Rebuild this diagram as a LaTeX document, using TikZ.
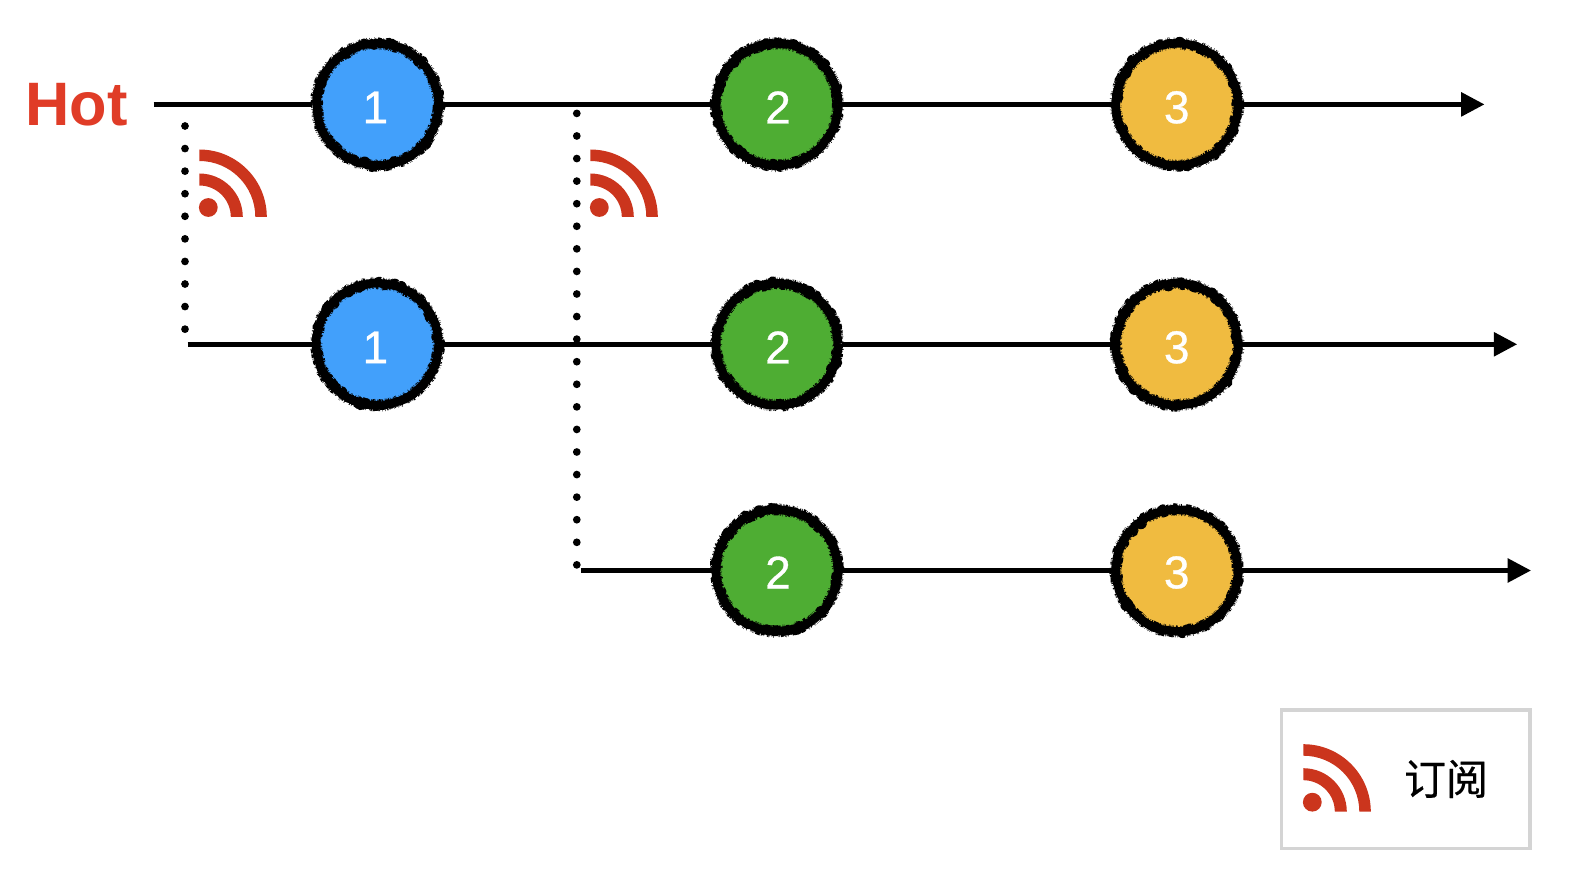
\documentclass[tikz,border=0pt]{standalone}
\usepackage{fontspec}
\setmainfont{Liberation Sans}
\newfontfamily\numfont{Liberation Sans}[FakeBold=0.7]
\newfontfamily\cjk{Noto Sans CJK SC}[FakeBold=0.5]
\usetikzlibrary{arrows.meta,decorations.pathmorphing}
\definecolor{hotred}{HTML}{E03C27}
\definecolor{rssred}{HTML}{CB351D}
\definecolor{ballblue}{HTML}{42A0FB}
\definecolor{ballgreen}{HTML}{4EAD33}
\definecolor{ballyellow}{HTML}{F0BB40}
\definecolor{boxgray}{HTML}{D4D4D4}
\tikzset{ball/.style={circle,fill=#1,draw=black,line width=6.4pt,line join=round,minimum size=91.5pt,inner sep=0pt,
        decorate,decoration={random steps,segment length=1.2pt,amplitude=0.5pt},
        postaction={draw,line width=9pt,dash pattern=on 0.3pt off 0.8pt,decorate,
        decoration={random steps,segment length=1pt,amplitude=0.8pt}}},
    numlabel/.style={text=white,inner sep=0pt,font=\numfont\fontsize{34.5}{34.5}\selectfont},
    stream/.style={line width=3.5pt},
    flow/.style={stream,-{Triangle[length=17.5pt,width=17.5pt]}},
    subline/.style={line width=5.8pt,line cap=round,dash pattern=on 0pt off 16.93pt},
    rssicon/.pic={
        \fill[rssred] (9,9.5) circle (9.4);
        \fill[rssred] (0,43.5) arc[start angle=90,end angle=0,radius=43.5] -- (31.5,0)
            arc[start angle=0,end angle=90,radius=31.5] -- cycle;
        \fill[rssred] (0,67.5) arc[start angle=90,end angle=0,radius=67.5] -- (56,0)
            arc[start angle=0,end angle=90,radius=56] -- cycle;
    }}
\begin{document}
\begin{tikzpicture}[x=0.75pt,y=0.75pt,yscale=-1,xscale=1]
\useasboundingbox (0,0) rectangle (1572,880);

%Free ends
\coordinate (startA) at (153.6,104.4);
\coordinate (endA) at (1484.5,104.4);
\coordinate (startB) at (187.7,344.3);
\coordinate (endB) at (1517.2,344.3);
\coordinate (startC) at (581,570.5);
\coordinate (endC) at (1531,570.5);
\coordinate (subAtop) at (185,126);
\coordinate (subAend) at (185,330);
\coordinate (subBtop) at (576.8,113.4);
\coordinate (subBend) at (576.8,566);

%Balls
\node (ballAa) [ball=ballblue] at (377.5,104.4) {};
\node (ballAb) [ball=ballgreen] at (777,104.4) {};
\node (ballAc) [ball=ballyellow] at (1177,104.4) {};
\node (ballBa) [ball=ballblue] at (377.5,344.3) {};
\node (ballBb) [ball=ballgreen] at (777,344.3) {};
\node (ballBc) [ball=ballyellow] at (1177,344.3) {};
\node (ballCb) [ball=ballgreen] at (777,570.5) {};
\node (ballCc) [ball=ballyellow] at (1177,570.5) {};

%Straight Lines
\draw [stream] (startA) -- (ballAa);
\draw [stream] (ballAa) -- (ballAb);
\draw [stream] (ballAb) -- (ballAc);
\draw [flow] (ballAc) -- (endA);
\draw [stream] (startB) -- (ballBa);
\draw [stream] (ballBa) -- (ballBb);
\draw [stream] (ballBb) -- (ballBc);
\draw [flow] (ballBc) -- (endB);
\draw [stream] (startC) -- (ballCb);
\draw [stream] (ballCb) -- (ballCc);
\draw [flow] (ballCc) -- (endC);

%Dotted Lines
\draw [subline] (subAtop) -- (subAend);
\draw [subline] (subBtop) -- (subBend);

% Text Node
\node (hotlabel) [anchor=base west,inner sep=0pt,text=hotred,font=\fontsize{46}{46}\selectfont\bfseries] at (25,126) {Hot};
\node (numAa) [numlabel] at (375.4,107.4) {1};
\node (numAb) [numlabel] at (778,107.4) {2};
\node (numAc) [numlabel] at (1176.7,107.4) {3};
\node (numBa) [numlabel] at (375.4,347.4) {1};
\node (numBb) [numlabel] at (778,347.4) {2};
\node (numBc) [numlabel] at (1176.7,347.4) {3};
\node (numCb) [numlabel] at (778,572.5) {2};
\node (numCc) [numlabel] at (1176.7,572.5) {3};

%Icons
\pic at (199.3,217) {rssicon};
\pic at (590.3,217) {rssicon};

%Legend
\node (legendbox) [draw=boxgray,line width=2.5pt,minimum width=186.2pt,minimum height=103.7pt,inner sep=0pt] at (1405.8,779.2) {};
\pic at (1303.3,811.7) {rssicon};
\node (legendtext) [inner sep=0pt,font=\cjk\fontsize{31.5}{31.5}\selectfont] at (1446,779) {订阅};

\end{tikzpicture}
\end{document}
